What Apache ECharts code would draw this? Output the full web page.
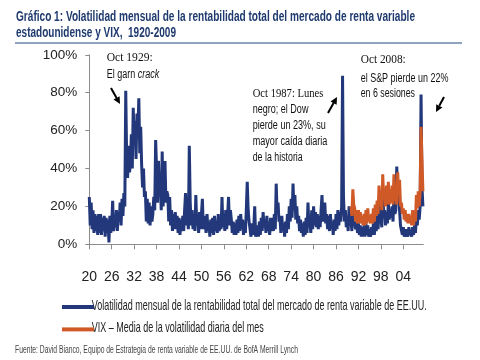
<!DOCTYPE html>
<html><head><meta charset="utf-8">
<script src="https://cdn.jsdelivr.net/npm/echarts@6/dist/echarts.min.js"></script>
<style>html,body{margin:0;padding:0;background:#fff}#c{width:480px;height:360px}</style>
</head><body><div id="c"></div>
<script>
// ---- data ----
const startYear = 1920;          // quarterly samples start
const vixStartYear = 1990;
const xTickLabels = ['20','26','32','38','44','50','56','62','68','74','80','86','92','98','04'];
const yTickLabels = ['0%','20%','40%','60%','80%','100%'];
// Monthly realized volatility of US equity total return (%), read at quarterly resolution
const blueVol = [
 25,10,22,8, 18,6,16,7, 15,5,16,6, 16,5,14,7, 15,4,14,6,
 13,1,15,6, 11,23,7,14, 9,18,7,17, 12,22,10,24, 15,27,20,81,
 45,35,52,38, 42,58,40,72, 55,65,45,69, 60,77,48,62, 42,30,40,25,
 28,12,24,11, 22,10,20,12, 16,25,18,55, 40,22,44,28, 30,18,49,20,
 38,44,22,28, 26,12,25,10, 18,7,16,8, 17,8,15,6, 14,5,13,7,
 15,7,18,27, 10,16,8,52, 22,10,18,8, 16,7,26,10, 14,6,17,8,
 16,24,8,15, 14,6,16,7, 12,4,13,6, 14,5,15,7, 12,6,16,7,
 14,8,25,9, 16,7,18,8, 15,25,10,18, 13,6,12,5, 11,5,13,6,
 15,7,16,8, 13,5,12,6, 18,33,18,12, 12,4,11,5, 9,20,4,8,
 10,4,12,5, 14,7,17,9, 13,6,15,7, 12,5,14,7, 14,7,16,8,
 32,16,22,12, 14,6,15,7, 11,4,12,6, 16,8,20,12, 24,14,32,18,
 26,13,20,11, 15,7,13,6, 11,4,12,5, 14,6,22,9, 13,6,18,8,
 20,10,17,9, 16,8,15,9, 18,26,12,20, 22,11,16,8, 15,7,16,8,
 12,5,13,7, 16,8,18,10, 17,12,20,89, 25,12,18,9, 14,7,20,10,
 13,7,22,14, 14,8,13,6, 11,5,10,4, 9,4,10,4, 11,5,10,4,
 8,4,9,5, 11,5,13,7, 15,8,18,22, 14,9,30,16, 18,10,17,11,
 22,13,18,14, 20,12,26,16, 18,41,26,28, 18,10,9,5, 9,4,8,4,
 8,4,9,5, 7,4,9,5, 10,6,14,10, 18,13,20,79, 30,20
];
// VIX monthly average of daily volatility (%), quarterly resolution
const vixVol = [
 20,15,29,21, 19,12,18,11, 18,11,17,11, 15,10,16,10, 18,11,19,12,
 15,11,16,11, 19,12,21,15, 23,16,31,21, 25,18,37,24, 29,20,31,21,
 33,21,29,22, 31,21,37,23, 27,21,38,27, 34,20,22,16, 19,13,18,12,
 16,11,16,11, 15,10,18,10, 16,12,26,19, 28,20,27,62, 44,28
];
const seriesNames = [
 'Volatilidad mensual de la rentabilidad total del mercado de renta variable de EE.UU.',
 'VIX – Media de la volatilidad diaria del mes'
];

const blueData = blueVol.map((v,i)=>[startYear + i/4, v]);
const vixData = vixVol.map((v,i)=>[vixStartYear + i/4, v]);

const SANS = "'Liberation Sans',Arial,sans-serif";
const SERIF = "'Liberation Serif','Times New Roman',serif";
const BLUE = '#22387a';
const ORANGE = '#cf5a28';

const mctx = document.createElement('canvas').getContext('2d');
// text fitted horizontally to the width it occupies in the reference (narrow face emulation)
function ft(text, font, x, yc, w, fill){
  mctx.font = font;
  const m = mctx.measureText(text).width;
  return {type:'text', x:x, y:yc, scaleX:w/m, scaleY:1,
    style:{text:text, font:font, fill:fill||'#111', align:'left', verticalAlign:'middle'}};
}
function arrow(x1,y1,x2,y2){
  const a = Math.atan2(y2-y1,x2-x1), L=7, W=3.5;
  const bx = x2 - L*Math.cos(a), by = y2 - L*Math.sin(a);
  const px = -Math.sin(a)*W, py = Math.cos(a)*W;
  return [
    {type:'line', shape:{x1:x1,y1:y1,x2:bx,y2:by}, style:{stroke:'#000',lineWidth:2}},
    {type:'polygon', shape:{points:[[x2,y2],[bx+px,by+py],[bx-px,by-py]]}, style:{fill:'#000'}}
  ];
}
// "El garn crack" with italic word, shared scale
function crackLine(){
  const f1 = "12px "+SANS, f2 = "italic 12px "+SANS;
  mctx.font = f1; const w1 = mctx.measureText('El garn ').width;
  mctx.font = f2; const w2 = mctx.measureText('crack').width;
  const s = 52.6/(w1+w2);
  return [
    {type:'text', x:106.7, y:75, scaleX:s, style:{text:'El garn ', font:f1, fill:'#111', verticalAlign:'middle'}},
    {type:'text', x:106.7+w1*s, y:75, scaleX:s, style:{text:'crack', font:f2, fill:'#111', verticalAlign:'middle'}}
  ];
}

const chart = echarts.init(document.getElementById('c'), null, {renderer:'canvas'});
chart.setOption({
  animation:false,
  backgroundColor:'#fff',
  grid:{left:89.3, right:56.7, top:54.8, bottom:115.7, containLabel:false},
  xAxis:{
    type:'value', min:1920, max:2009.35, interval:6,
    axisLine:{lineStyle:{color:'#8c8c8c',width:1}},
    axisTick:{show:true,length:5,lineStyle:{color:'#8c8c8c'}},
    splitLine:{show:false},
    axisLabel:{margin:26, fontFamily:SANS, fontSize:14, color:'#222',
      showMaxLabel:false,
      formatter:(v)=>{const i=Math.round((v-1920)/6); return xTickLabels[i]||'';}}
  },
  yAxis:{
    type:'value', min:0, max:100, interval:20,
    axisLine:{show:true,lineStyle:{color:'#8c8c8c',width:1}},
    axisTick:{show:true,length:4,lineStyle:{color:'#8c8c8c'}},
    splitLine:{show:false},
    axisLabel:{margin:12, fontFamily:SANS, fontSize:13.5, color:'#222',
      formatter:(v)=>yTickLabels[Math.round(v/20)]}
  },
  legend:{
    orient:'vertical', left:57, top:294, itemWidth:32, itemHeight:4, itemGap:6.4,
    icon:'rect', selectedMode:false,
    formatter:()=>' ',
    textStyle:{fontSize:14, lineHeight:16},
    data:seriesNames
  },
  series:[
    {name:seriesNames[0], type:'line', data:blueData, showSymbol:false, color:BLUE,
     lineStyle:{color:BLUE,width:3}, sampling:'none', z:2},
    {name:seriesNames[1], type:'line', data:vixData, showSymbol:false, color:ORANGE,
     lineStyle:{color:ORANGE,width:3}, sampling:'none', z:3}
  ],
  graphic:[
    ft('Gráfico 1: Volatilidad mensual de la rentabilidad total del mercado de renta variable', "bold 15px "+SANS, 16, 16.5, 399, '#1f3a6e'),
    ft('estadounidense y VIX,  1920-2009', "bold 15px "+SANS, 16, 32.5, 160, '#1f3a6e'),
    {type:'line', shape:{x1:15,y1:43,x2:462,y2:43}, style:{stroke:'#6a86ad',lineWidth:1.5}},
    // legend labels
    ft(seriesNames[0], "15px "+SANS, 91.7, 306, 335, '#222'),
    ft(seriesNames[1], "15px "+SANS, 91.7, 327.7, 172, '#222'),
    // annotations
    ft('Oct 1929:', "12.5px "+SERIF, 106.7, 58, 46, '#111'),
    ...crackLine(),
    ft('Oct 1987: Lunes', "12.5px "+SERIF, 252.7, 93.5, 70.7, '#111'),
    ft('negro; el Dow', "12px "+SANS, 252.7, 110, 55.7, '#111'),
    ft('pierde un 23%, su', "12px "+SANS, 252.7, 126, 73, '#111'),
    ft('mayor caída diaria', "12px "+SANS, 252.7, 142, 74.7, '#111'),
    ft('de la historia', "12px "+SANS, 252.7, 158, 50, '#111'),
    ft('Oct 2008:', "12.5px "+SERIF, 360.7, 60, 45, '#111'),
    ft('el S&P pierde un 22%', "12px "+SANS, 360.7, 79, 87.7, '#111'),
    ft('en 6 sesiones', "12px "+SANS, 360.7, 94, 54.3, '#111'),
    ...arrow(111,88,120,104),
    ...arrow(328,113,337,97),
    ...arrow(444,97,436,112),
    ft('Fuente: David Bianco, Equipo de Estrategia de renta variable de EE.UU. de BofA Merrill Lynch', "10px "+SANS, 15, 350.7, 283, '#444')
  ]
});
</script></body></html>
